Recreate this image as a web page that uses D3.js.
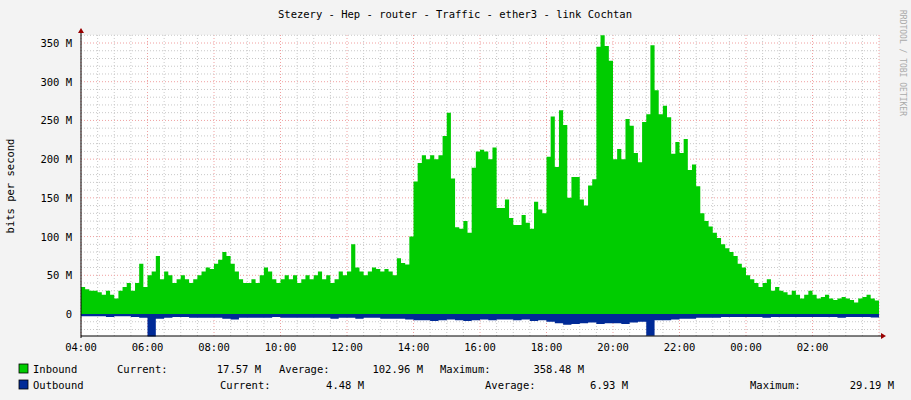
<!DOCTYPE html>
<html><head><meta charset="utf-8">
<script src="https://cdn.jsdelivr.net/npm/d3@7"></script>
<style>body{margin:0;background:#f3f3f3}text{font-family:"DejaVu Sans Mono",monospace;font-size:10.5px;fill:#000}</style>
</head><body><svg id="c" width="911" height="400"></svg>
<script>
const title = "Stezery - Hep - router - Traffic - ether3 - link Cochtan";
const hoursSpan = 24;
// inbound Mbit/s, 8 samples per hour from 04:00
const inbound = [
35,32,30,30,28,25,30,25,
20,30,35,40,30,40,65,35,
50,55,75,45,55,50,40,45,
50,45,40,45,50,55,60,58,
65,70,80,75,65,55,45,40,
40,45,40,50,60,55,45,40,
45,50,45,50,40,45,50,45,
50,55,45,50,40,45,55,50,
55,90,60,55,50,55,60,58,
55,58,55,50,72,66,64,100,
171,195,205,200,205,200,205,230,
260,175,112,110,120,105,189,210,
212,210,200,215,137,137,148,124,
115,115,128,118,110,145,135,130,
203,255,190,263,244,150,177,177,
148,140,166,174,345,360,346,327,
200,213,200,252,243,208,196,248,
258,347,289,258,269,254,207,222,
208,226,186,193,165,130,120,113,
105,98,90,85,80,75,65,60,
50,45,40,35,40,45,30,35,
30,28,25,30,25,20,25,30,
25,20,22,25,20,18,20,22,
20,18,15,20,22,25,20,17.57];
// outbound Mbit/s, 4 samples per hour from 04:00
const outbound = [
3,3,3,4, 3,3,4,5, 29,6,5,4, 4,5,5,5,
5,6,7,5, 5,5,5,4, 5,5,5,5, 5,5,6,5,
5,6,5,5, 6,6,6,7, 8,8,9,8, 7,8,9,8,
7,8,7,7, 8,7,9,8, 10,12,14,13, 12,11,13,12,
12,13,11,10, 28,8,8,7, 6,6,5,5, 5,4,4,4,
4,4,5,4, 4,4,4,4, 4,4,4,5, 4,4,4,4.48];
const yTicks = [0,50,100,150,200,250,300,350];
const xTickLabels = ["04:00","06:00","08:00","10:00","12:00","14:00","16:00","18:00","20:00","22:00","00:00","02:00"];

const svg = d3.select("#c");
const L=81,R=879,T=35,B=336;
const x = d3.scaleLinear().domain([0,hoursSpan]).range([L,R]);
const y = d3.scaleLinear().domain([0,350]).range([314,43]);
svg.append("rect").attr("x",L).attr("y",T).attr("width",R-L).attr("height",B-T).attr("fill","#fff");
for(let h=0;h<=hoursSpan;h+=0.5){ const major = h%2===0;
  svg.append("line").attr("x1",x(h)).attr("x2",x(h)).attr("y1",T).attr("y2",B)
   .attr("stroke",major?"#f0a0a0":"#c8c8c8").attr("stroke-dasharray","1,2").attr("stroke-width",1);}
for(let v=-20;v<=370;v+=10){ const py=y(v); if(py<T||py>B) continue; const major=v%50===0;
  svg.append("line").attr("x1",L).attr("x2",R).attr("y1",py).attr("y2",py)
   .attr("stroke",major?"#f0a0a0":"#c8c8c8").attr("stroke-dasharray","1,2");}
const inStep = hoursSpan/inbound.length, outStep = hoursSpan/outbound.length;
const inPts = inbound.map((v,i)=>[i*inStep,v]); inPts.push([hoursSpan,inbound[inbound.length-1]]);
const outPts = outbound.map((v,i)=>[i*outStep,v]); outPts.push([hoursSpan,outbound[outbound.length-1]]);
svg.append("path").datum(inPts).attr("fill","#00cc00")
 .attr("d",d3.area().curve(d3.curveStepAfter).x(d=>x(d[0])).y0(y(0)).y1(d=>y(d[1])));
svg.append("path").datum(outPts).attr("fill","#002a97")
 .attr("d",d3.area().curve(d3.curveStepAfter).x(d=>x(d[0])).y0(y(0)).y1(d=>y(-d[1])));
svg.append("line").attr("x1",L).attr("x2",R+4).attr("y1",B).attr("y2",B).attr("stroke","#000");
svg.append("line").attr("x1",L).attr("x2",L).attr("y1",B+2).attr("y2",T-5).attr("stroke","#000");
svg.append("path").attr("d",`M${R+2},${B-3}L${R+7},${B}L${R+2},${B+3}Z`).attr("fill","#900");
svg.append("path").attr("d",`M${L-3},${T-2}L${L},${T-7}L${L+3},${T-2}Z`).attr("fill","#900");
yTicks.forEach(v=>svg.append("text").attr("x",72).attr("y",y(v)+4).attr("text-anchor","end").text(v===0?"0":v+" M"));
xTickLabels.forEach((t,i)=>svg.append("text").attr("x",x(i*2)).attr("y",351).attr("text-anchor","middle").text(t));
svg.append("text").attr("x",455).attr("y",18).attr("text-anchor","middle").text(title);
svg.append("text").attr("transform","translate(14,186) rotate(-90)").attr("text-anchor","middle").text("bits per second");
svg.append("text").attr("transform","translate(900,10) rotate(90)").attr("style","font-size:8px;fill:#aaa").text("RRDTOOL / TOBI OETIKER");
function sq(yy,c){svg.append("rect").attr("x",19).attr("y",yy).attr("width",9).attr("height",9).attr("fill",c).attr("stroke","#000").attr("stroke-width",0.8);}
sq(364,"#00cc00"); sq(380,"#002a97");
const t=(xx,yy,s,a)=>svg.append("text").attr("x",xx).attr("y",yy).attr("text-anchor",a||"start").text(s);
t(33,373,"Inbound"); t(117,373,"Current:"); t(261,373,"17.57 M","end"); t(279,373,"Average:"); t(423,373,"102.96 M","end"); t(440,373,"Maximum:"); t(584,373,"358.48 M","end");
t(33,389,"Outbound"); t(220,389,"Current:"); t(364,389,"4.48 M","end"); t(485,389,"Average:"); t(628,389,"6.93 M","end"); t(750,389,"Maximum:"); t(894,389,"29.19 M","end");
</script></body></html>
